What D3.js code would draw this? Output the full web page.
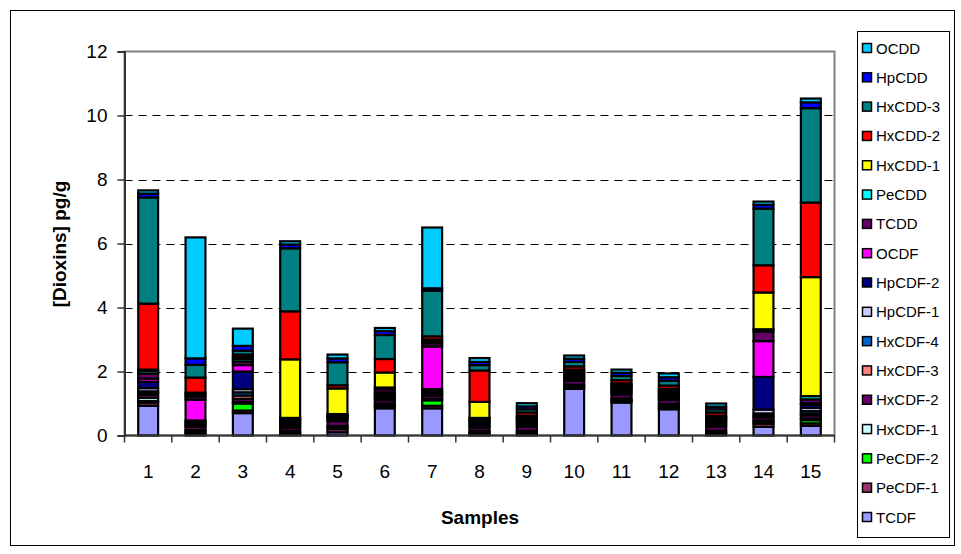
<!DOCTYPE html>
<html><head><meta charset="utf-8">
<script src="https://cdn.jsdelivr.net/npm/d3@7"></script>
<style>
html,body{margin:0;padding:0;background:#fff;}
text{font-family:"Liberation Sans",Arial,sans-serif;}
</style></head>
<body><svg id="chart" width="961" height="554"></svg>
<script>
const categories = ["1","2","3","4","5","6","7","8","9","10","11","12","13","14","15"];
const seriesNames = ["TCDF","PeCDF-1","PeCDF-2","HxCDF-1","HxCDF-2","HxCDF-3","HxCDF-4","HpCDF-1","HpCDF-2","OCDF","TCDD","PeCDD","HxCDD-1","HxCDD-2","HxCDD-3","HpCDD","OCDD"];
const seriesColors = ["#9999FF","#993366","#00FF00","#CCFFFF","#660066","#FF8080","#0066CC","#CCCCFF","#000080","#FF00FF","#660066","#00FFFF","#FFFF00","#FF0000","#008080","#0000FF","#00CCFF"];
const yTicks = [0,2,4,6,8,10,12];

const TCDF    = [0.93,0.02,0.70,0.02,0.10,0.85,0.85,0.02,0.02,1.46,1.03,0.82,0.02,0.27,0.30];
const PeCDF_1 = [0.10,0.05,0.08,0.05,0.10,0.05,0.08,0.05,0.05,0.05,0.05,0.05,0.05,0.10,0.08];
const PeCDF_2 = [0.05,0.05,0.22,0.03,0.05,0.05,0.17,0.03,0.03,0.03,0.03,0.07,0.03,0.05,0.10];
const HxCDF_1 = [0.10,0.05,0.05,0.05,0.05,0.05,0.05,0.05,0.05,0.05,0.05,0.05,0.05,0.05,0.05];
const HxCDF_2 = [0.10,0.10,0.10,0.10,0.15,0.10,0.10,0.10,0.12,0.12,0.12,0.12,0.12,0.10,0.10];
const HxCDF_3 = [0.05,0.05,0.10,0.05,0.05,0.05,0.05,0.05,0.05,0.05,0.05,0.05,0.05,0.05,0.05];
const HxCDF_4 = [0.05,0.05,0.10,0.05,0.05,0.05,0.05,0.05,0.05,0.05,0.05,0.05,0.05,0.07,0.08];
const HpCDF_1 = [0.10,0.05,0.10,0.05,0.02,0.05,0.05,0.05,0.05,0.05,0.05,0.05,0.05,0.12,0.10];
const HpCDF_2 = [0.20,0.05,0.55,0.05,0.03,0.05,0.05,0.05,0.05,0.05,0.05,0.05,0.05,1.02,0.10];
const OCDF    = [0.10,0.65,0.20,0.03,0.02,0.05,1.33,0.03,0.03,0.03,0.03,0.03,0.03,1.12,0.05];
const TCDD    = [0.15,0.10,0.10,0.05,0.03,0.10,0.10,0.05,0.05,0.05,0.05,0.05,0.05,0.30,0.12];
const PeCDD   = [0.08,0.07,0.08,0.02,0.02,0.05,0.05,0.02,0.02,0.02,0.02,0.02,0.02,0.07,0.10];
const HxCDD_1 = [0.05,0.05,0.07,1.83,0.80,0.47,0.07,0.50,0.05,0.05,0.05,0.05,0.05,1.15,3.72];
const HxCDD_2 = [2.06,0.47,0.08,1.50,0.10,0.42,0.10,0.98,0.10,0.10,0.10,0.10,0.10,0.85,2.33];
const HxCDD_3 = [3.32,0.40,0.12,1.97,0.72,0.75,1.42,0.17,0.10,0.14,0.13,0.15,0.10,1.77,2.95];
const HpCDD   = [0.12,0.20,0.15,0.12,0.12,0.12,0.08,0.10,0.09,0.10,0.10,0.11,0.08,0.12,0.18];
const OCDD    = [0.10,3.78,0.54,0.10,0.12,0.10,1.90,0.12,0.10,0.10,0.10,0.12,0.10,0.10,0.12];

const seriesValues = [TCDF,PeCDF_1,PeCDF_2,HxCDF_1,HxCDF_2,HxCDF_3,HxCDF_4,HpCDF_1,HpCDF_2,OCDF,TCDD,PeCDD,HxCDD_1,HxCDD_2,HxCDD_3,HpCDD,OCDD];

const table = categories.map((c,i)=>{
  const row = {cat:c};
  seriesNames.forEach((s,j)=>{ row[s] = seriesValues[j][i]; });
  return row;
});

const svg = d3.select("#chart");
const font = '"Liberation Sans",Arial,sans-serif';

// outer border
svg.append("rect").attr("x",10.5).attr("y",10.5).attr("width",944).attr("height",535)
  .attr("fill","#fff").attr("stroke","#000").attr("stroke-width",1);

const plot = {left:124.5, right:834.5, top:51.5, bottom:435.5};
const x = d3.scaleBand().domain(categories).range([plot.left, plot.right]).paddingInner(0.58).paddingOuter(0.29);
const xb = d3.scaleBand().domain(categories).range([plot.left, plot.right]);
const y = d3.scaleLinear().domain([0,12]).range([plot.bottom, plot.top]);

// plot area border
svg.append("rect").attr("x",plot.left).attr("y",plot.top)
  .attr("width",plot.right-plot.left).attr("height",plot.bottom-plot.top)
  .attr("fill","#fff").attr("stroke","#808080").attr("stroke-width",2);

// gridlines
svg.append("g").selectAll("line").data(yTicks.filter(d=>d>0 && d<12)).join("line")
  .attr("x1",plot.left).attr("x2",plot.right)
  .attr("y1",d=>Math.round(y(d))+0.5).attr("y2",d=>Math.round(y(d))+0.5)
  .attr("stroke","#000").attr("stroke-width",1).attr("stroke-dasharray","8,6");

// stacked bars
const stack = d3.stack().keys(seriesNames);
const stacked = stack(table);
const color = d3.scaleOrdinal().domain(seriesNames).range(seriesColors);

svg.append("g").selectAll("g").data(stacked).join("g")
  .attr("fill",d=>color(d.key))
  .selectAll("rect").data(d=>d).join("rect")
  .attr("x",d=>x(d.data.cat))
  .attr("width",x.bandwidth())
  .attr("y",d=>y(d[1]))
  .attr("height",d=>Math.max(0,y(d[0])-y(d[1])))
  .attr("stroke","#000").attr("stroke-width",2.2);

// axes
const yAxis = d3.axisLeft(y).tickValues(yTicks).tickSize(7).tickPadding(10);
const gy = svg.append("g").attr("transform",`translate(${plot.left},0)`).call(yAxis);
gy.select(".domain").attr("stroke","#333").attr("stroke-width",2);
gy.selectAll(".tick line").attr("stroke","#333").attr("stroke-width",1.5);
gy.selectAll("text").attr("font-family",font).attr("font-size",19).attr("fill","#000");

const gx = svg.append("g").attr("transform",`translate(0,${plot.bottom})`);
gx.append("line").attr("x1",plot.left).attr("x2",plot.right).attr("y1",0).attr("y2",0)
  .attr("stroke","#333").attr("stroke-width",2);
const bounds = categories.map(c=>xb(c)).concat([plot.right]);
gx.selectAll("line.tk").data(bounds).join("line").attr("class","tk")
  .attr("x1",d=>d).attr("x2",d=>d).attr("y1",0).attr("y2",7)
  .attr("stroke","#333").attr("stroke-width",1.5);
gx.selectAll("text").data(categories).join("text")
  .attr("x",d=>xb(d)+xb.bandwidth()/2).attr("y",42)
  .attr("text-anchor","middle").attr("font-family",font).attr("font-size",19).text(d=>d);

// axis titles
svg.append("text").attr("x",480).attr("y",524).attr("text-anchor","middle")
  .attr("font-family",font).attr("font-size",19).attr("font-weight","bold").text("Samples");
svg.append("text").attr("transform","translate(66,244) rotate(-90)").attr("text-anchor","middle")
  .attr("font-family",font).attr("font-size",19).attr("font-weight","bold").text("[Dioxins] pg/g");

// legend
const lg = svg.append("g");
lg.append("rect").attr("x",857.5).attr("y",31.5).attr("width",92).attr("height",506)
  .attr("fill","#fff").attr("stroke","#000").attr("stroke-width",1);
const legendItems = seriesNames.slice().reverse();
const ly = d3.scalePoint().domain(legendItems).range([48,517]);
const li = lg.selectAll("g").data(legendItems).join("g")
  .attr("transform",d=>`translate(0,${ly(d)})`);
li.append("rect").attr("x",862.5).attr("y",-4.5).attr("width",9).attr("height",9)
  .attr("fill",d=>color(d)).attr("stroke","#000").attr("stroke-width",1.5);
li.append("text").attr("x",876).attr("y",5.5).attr("font-family",font).attr("font-size",15).text(d=>d);
</script></body></html>
